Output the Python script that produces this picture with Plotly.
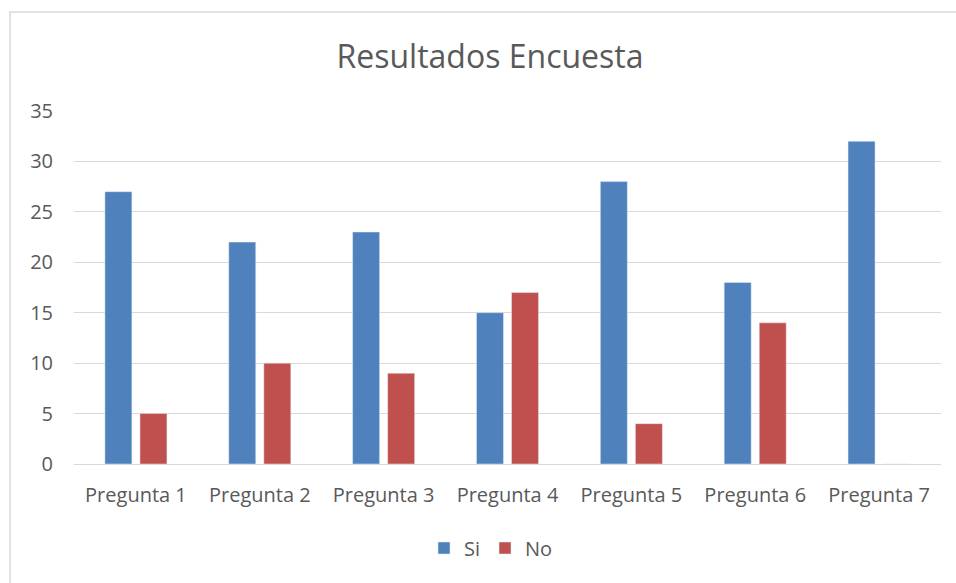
import plotly.graph_objects as go

categories = ["Pregunta 1", "Pregunta 2", "Pregunta 3", "Pregunta 4",
              "Pregunta 5", "Pregunta 6", "Pregunta 7"]
si_values = [27, 22, 23, 15, 28, 18, 32]
no_values = [5, 10, 9, 17, 4, 14, 0]
y_ticks = [0, 5, 10, 15, 20, 25, 30, 35]

W, H = 956, 583
L, R, T, B = 74, 15, 111, 119
pw, ph = W - L - R, H - T - B

font_family = "Open Sans, Noto Sans, sans-serif"
text_color = "#595959"
tick_size = 20

fig = go.Figure()
fig.add_trace(go.Bar(name="Si", x=categories, y=si_values, marker_color="#4F81BD"))
fig.add_trace(go.Bar(name="No", x=categories, y=no_values, marker_color="#C0504D"))

# frame around the chart area (left and top edges visible)
bx0 = (10 - L) / pw
by1 = 1 + (T - 12) / ph
fig.add_shape(type="path", xref="paper", yref="paper",
              path=f"M {bx0},-1 L {bx0},{by1} L 2,{by1}",
              line=dict(color="#d9d9d9", width=1.5))

fig.update_layout(
    width=W, height=H,
    margin=dict(l=L, r=R, t=T, b=B),
    paper_bgcolor="white", plot_bgcolor="white",
    barmode="group", bargap=0.434, bargroupgap=0.23,
    title=dict(text="Resultados Encuesta", x=490 / W, xanchor="center",
               y=1 - 57 / H, yanchor="middle",
               font=dict(family=font_family, size=32, color=text_color)),
    font=dict(family=font_family, size=tick_size, color=text_color),
    xaxis=dict(showgrid=False, showline=True, linecolor="#d9d9d9", linewidth=1,
               ticks="", ticklabelstandoff=13,
               tickfont=dict(size=tick_size, color=text_color)),
    yaxis=dict(range=[0, 35], tickvals=y_ticks, showgrid=True, gridcolor="#d9d9d9",
               gridwidth=1, zeroline=False, showline=False, ticks="",
               ticklabelstandoff=20,
               tickfont=dict(size=tick_size, color=text_color)),
    legend=dict(orientation="h", x=(491 - L) / pw, xanchor="center",
                y=-(548 - (T + ph)) / ph, yanchor="middle",
                font=dict(size=tick_size, color=text_color), itemwidth=30,
                tracegroupgap=0),
)

fig.write_html("out.html")
